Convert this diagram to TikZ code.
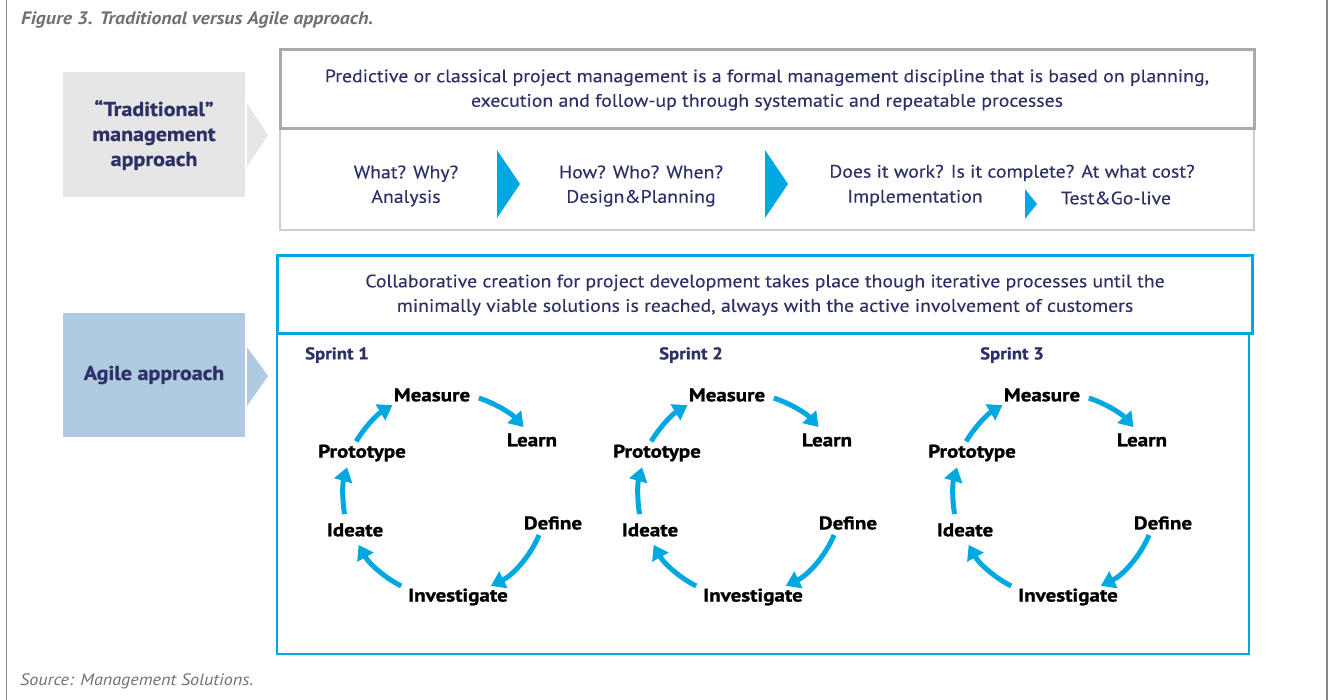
\documentclass[tikz,border=0pt]{standalone}
\usepackage{fontspec}
\setmainfont[FakeStretch=1.1]{PT Sans}
\newfontfamily\stepfont[FakeStretch=1.15, BoldFeatures={FakeBold=1.2}]{PT Sans}
\newfontfamily\headfont[FakeStretch=1.1, BoldFeatures={FakeBold=0.8}]{PT Sans}
\newfontfamily\bodyfont[FakeStretch=1.1, FakeBold=0.3]{PT Sans}
\usetikzlibrary{arrows.meta}
\definecolor{navy}{RGB}{46,49,103}
\definecolor{capgray}{RGB}{112,113,117}
\definecolor{cyanA}{RGB}{0,168,225}
\definecolor{tradfill}{RGB}{230,230,231}
\definecolor{agilefill}{RGB}{176,202,226}
\definecolor{rulegray}{RGB}{136,136,136}
\definecolor{boxgray}{RGB}{170,170,170}
\definecolor{thingray}{RGB}{205,205,205}
\begin{document}
\begin{tikzpicture}[x=1pt,y=1pt,
  bodytext/.style={text=navy, font=\bodyfont\fontsize{18}{24.5}\selectfont, align=center, inner sep=0},
  sidebox/.style={text=navy, font=\headfont\bfseries\fontsize{20}{25}\selectfont, align=center,
    inner sep=0, minimum width=182, minimum height=125},
  steplabel/.style={text=black, font=\stepfont\bfseries\fontsize{18.3}{20}\selectfont, inner sep=0},
  sprintlabel/.style={text=navy, font=\headfont\bfseries\fontsize{17}{20}\selectfont, inner sep=0, anchor=west},
  caption/.style={text=capgray, anchor=west, inner sep=0},
  cyclearrow/.style={draw=cyanA, line width=5, -{Triangle[length=14,width=18]}},
  chevron/.style={fill=cyanA}]
\useasboundingbox (0,0) rectangle (1329,-700);

% frame rules
\draw[rulegray, line width=1.5] (6.5,0) -- (6.5,-700);
\draw[rulegray, line width=1.5] (1327,0) -- (1327,-700);

% captions
\node[caption, font=\bfseries\itshape\fontsize{18}{20}\selectfont] (title) at (21,-20)
  {Figure 3. Traditional versus Agile approach.};
\node[caption, font=\itshape\fontsize{16.5}{18}\selectfont] (source) at (20,-681)
  {Source: Management Solutions.};

% side labels with their pointers
\node[sidebox, fill=tradfill] (trad) at (154,-135) {“Traditional”\\management\\approach};
\fill[tradfill] (247,-103) -- (268,-135) -- (247,-167) -- cycle;
\node[sidebox, fill=agilefill, minimum height=124] (agile) at (154,-375) {Agile approach};
\fill[agilefill] (247,-347) -- (268,-376) -- (247,-406) -- cycle;

% traditional approach boxes
\draw[thingray, line width=1.2] (280,-129) rectangle (1254,-230);
\draw[boxgray, line width=3] (280,-50) rectangle (1254,-129);
\node[bodytext] (pred) at (767,-90)
  {Predictive or classical project management is a formal management discipline that is based on planning,\\
   execution and follow-up through systematic and repeatable processes};
\node[bodytext] (what) at (406,-186) {What? Why?\\Analysis};
\node[bodytext] (how) at (641,-186) {How? Who? When?\\Design\&Planning};
\node[bodytext] (does) at (1012,-173) {Does it work? Is it complete? At what cost?};
\node[bodytext] (impl) at (915,-198) {Implementation};
\node[bodytext] (test) at (1116,-198) {Test\&Go-live};
\fill[chevron] (497,-150) -- (520,-184) -- (497,-218) -- cycle;
\fill[chevron] (765,-150) -- (788,-184) -- (765,-218) -- cycle;
\fill[chevron] (1025,-189) -- (1037,-204) -- (1025,-219) -- cycle;

% agile approach boxes
\draw[cyanA, line width=1.5] (277,-333) rectangle (1249,-654);
\draw[cyanA, line width=3] (277,-256) rectangle (1252,-333);
\node[bodytext] (collab) at (765,-295)
  {Collaborative creation for project development takes place though iterative processes until the\\
   minimally viable solutions is reached, always with the active involvement of customers};

\node[sprintlabel] (sp1) at (305,-355) {Sprint 1};
\node[sprintlabel] (sp2) at (659,-355) {Sprint 2};
\node[sprintlabel] (sp3) at (980,-355) {Sprint 3};

% one design-thinking cycle per sprint
\foreach \dx/\k in {0/1,295/2,610/3}{
  \begin{scope}[xshift=\dx]
    \coordinate (c\k) at (447,-496);
    \node[steplabel] (meas\k) at (432,-395) {Measure};
    \node[steplabel] (learn\k) at (532,-440) {Learn};
    \node[steplabel] (def\k) at (553,-523) {Define};
    \node[steplabel] (inv\k) at (458,-597) {Investigate};
    \node[steplabel] (idea\k) at (355,-530) {Ideate};
    \node[steplabel] (proto\k) at (362,-453) {Prototype};
    \coordinate (ml\k) at ([shift={(72:103)}]c\k);
    \coordinate (di\k) at ([shift={(-23:100)}]c\k);
    \coordinate (ii\k) at ([shift={(-117:101)}]c\k);
    \coordinate (ip\k) at ([shift={(190:104)}]c\k);
    \coordinate (pm\k) at ([shift={(149:106)}]c\k);
    \draw[cyclearrow] (ml\k) arc[start angle=72, end angle=42, radius=103];
    \draw[cyclearrow] (di\k) arc[start angle=-23, end angle=-64, radius=100];
    \draw[cyclearrow] (ii\k) arc[start angle=-117, end angle=-151, radius=101];
    \draw[cyclearrow] (ip\k) arc[start angle=190, end angle=164, radius=104];
    \draw[cyclearrow] (pm\k) arc[start angle=149, end angle=121, radius=106];
  \end{scope}
}
\end{tikzpicture}
\end{document}
